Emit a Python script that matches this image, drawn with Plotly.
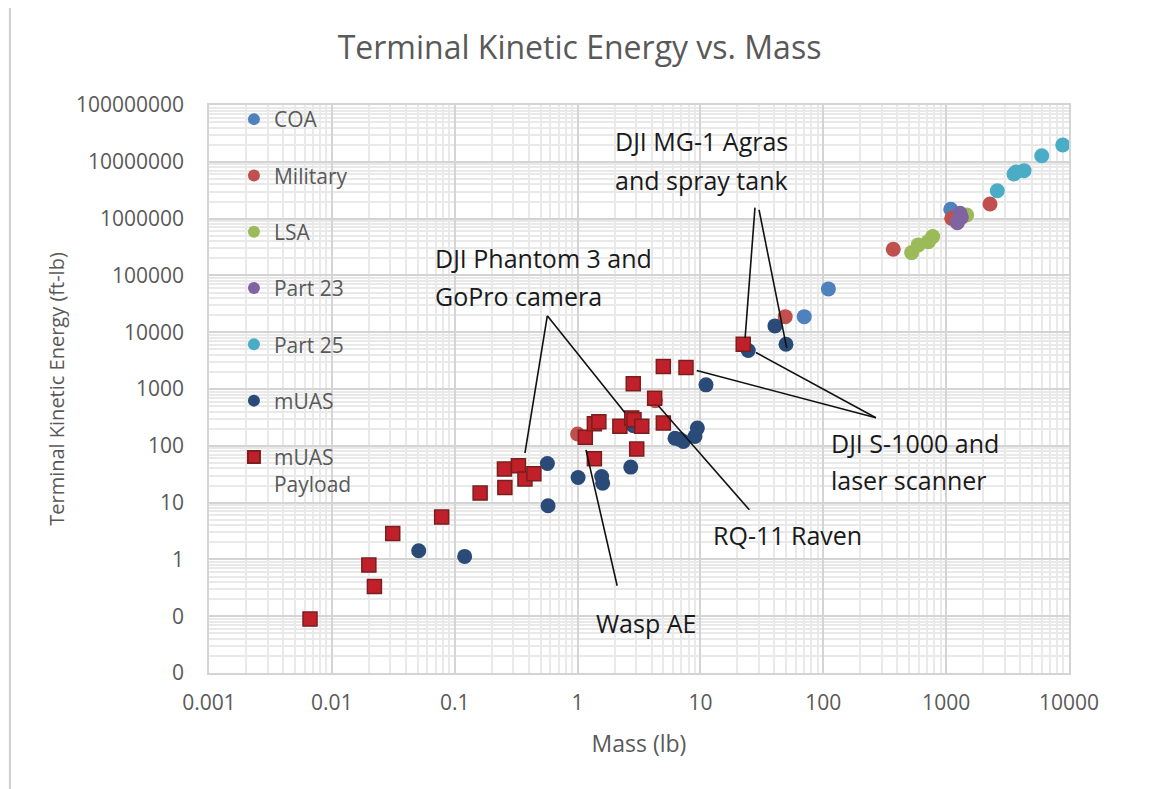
import plotly.graph_objects as go

# ---------------- data ----------------
coa_mass = [1090, 70, 110]
coa_ke = [1.46e6, 18800, 57800]

mil_mass = [1.0, 4.3, 49, 371, 1110, 2275]
mil_ke = [161, 620, 18800, 289000, 1.01e6, 1.81e6]

lsa_mass = [524, 593, 716, 777, 1469]
lsa_ke = [252000, 344000, 393000, 482000, 1.16e6]

p23_mass = [1330, 1297, 1233]
p23_ke = [1.05e6, 1.24e6, 849000]

p25_mass = [2608, 3565, 3700, 4303, 5997, 8890]
p25_ke = [3.10e6, 6.11e6, 6.6e6, 6.98e6, 1.28e7, 1.98e7]

muas_mass = [0.0509, 0.1205, 0.568, 0.575, 1.01, 1.57, 1.60, 2.71, 2.85,
             6.21, 6.8, 7.26, 9.03, 9.44, 11.1, 24.5, 40.4, 49.7]
muas_ke = [1.42, 1.13, 48.8, 8.79, 27.7, 28.8, 22.0, 42.2, 225,
           136, 130, 119, 146, 205, 1183, 4750, 12900, 6150]

pay_mass = [0.00664, 0.0200, 0.0222, 0.0313, 0.0783, 0.161, 0.256, 0.254, 0.330,
            0.373, 0.441, 1.156, 1.37, 1.49, 1.37, 2.21, 2.76, 2.88, 3.33, 3.03,
            2.84, 4.24, 4.99, 4.99, 7.63, 22.3]
pay_ke = [0.089, 0.794, 0.334, 2.86, 5.56, 14.7, 18.5, 38.9, 44.5,
          25.9, 32.1, 142, 244, 264, 59, 222, 310, 287, 222, 87.5,
          1233, 690, 251, 2483, 2386, 6150]

# callout leader lines: (mass, energy) endpoints
lead_phantom_a = ([0.567, 0.373], [19400, 74.3])
lead_phantom_b = ([0.567, 2.43], [19400, 380])
lead_wasp = ([1.17, 2.10], [85, 0.344])
lead_raven = ([4.54, 25.0], [506, 7.48])
lead_s1000_a = ([268, 9.33], [311, 2113])
lead_s1000_b = ([268, 28.3], [311, 4380])
lead_mg1_a = ([27.8, 23.1], [1.56e6, 7850])
lead_mg1_b = ([30.0, 50.4], [1.42e6, 5240])

# callout labels: text, log10(mass) of left edge, log10(energy) of line centre
label_text = ["DJI MG-1 Agras", "and spray tank",
              "DJI Phantom 3 and", "GoPro camera",
              "DJI S-1000 and", "laser scanner",
              "RQ-11 Raven", "Wasp AE"]
label_logx = [0.29, 0.29, -1.177, -1.177, 2.046, 2.046, 1.086, 0.134]
label_logy = [7.367, 6.683, 5.308, 4.639, 2.052, 1.401, 0.434, -1.115]

y_tickvals = [0.01, 0.1, 1, 10, 100, 1000, 10000, 100000, 1e6, 1e7, 1e8]
y_ticktext = ["0", "0", "1", "10", "100", "1000", "10000", "100000",
              "1000000", "10000000", "100000000"]
x_tickvals = [0.001, 0.01, 0.1, 1, 10, 100, 1000, 10000]
x_ticktext = ["0.001", "0.01", "0.1", "1", "10", "100", "1000", "10000"]

FONT = "Open Sans, Lato, sans-serif"
GREY = "#595959"

fig = go.Figure()

series = [
    ("COA", coa_mass, coa_ke, "#4F81BD"),
    ("Military", mil_mass, mil_ke, "#C0504D"),
    ("LSA", lsa_mass, lsa_ke, "#9BBB59"),
    ("Part 23", p23_mass, p23_ke, "#8064A2"),
    ("Part 25", p25_mass, p25_ke, "#4BACC6"),
    ("mUAS", muas_mass, muas_ke, "#2A4B78"),
]
for i, (name, xs, ys, col) in enumerate(series):
    fig.add_trace(go.Scatter(
        x=xs, y=ys, mode="markers", name=name, legendgroup=f"g{i}",
        marker=dict(color=col, size=15, symbol="circle", line=dict(width=0)),
    ))
fig.add_trace(go.Scatter(
    x=pay_mass, y=pay_ke, mode="markers", name="mUAS<br>Payload", legendgroup="g6",
    marker=dict(color="#C0202A", size=14, symbol="square",
                line=dict(color="#7A1E1E", width=1.5)),
))

for xs, ys in [lead_phantom_a, lead_phantom_b, lead_wasp, lead_raven,
               lead_s1000_a, lead_s1000_b, lead_mg1_a, lead_mg1_b]:
    fig.add_trace(go.Scatter(
        x=xs, y=ys, mode="lines", showlegend=False, hoverinfo="skip",
        line=dict(color="#111111", width=1.6),
    ))

for t, lx, ly in zip(label_text, label_logx, label_logy):
    fig.add_annotation(x=lx, y=ly, xref="x", yref="y", text=t, showarrow=False,
                       xanchor="left", yanchor="middle",
                       font=dict(family=FONT, size=25, color="#1A1A1A"))

x_minor = [m * 10 ** d for d in range(-3, 4) for m in range(2, 10)]
y_minor = [m * 10 ** d for d in range(-2, 8) for m in range(2, 10)]

# page body has an 8px margin, so the figure is sized to fit inside the window
fig.update_layout(
    width=1143, height=781,
    margin=dict(l=201, r=82, t=97, b=116, autoexpand=False),
    paper_bgcolor="white", plot_bgcolor="white",
    font=dict(family=FONT, color=GREY),
    title=dict(text="Terminal Kinetic Energy vs. Mass", x=0.5, xanchor="center",
               y=0.949, yanchor="middle",
               font=dict(family=FONT, size=32, color=GREY)),
    legend=dict(x=0.029, y=1.0106, xanchor="left", yanchor="top", valign="top",
                maxheight=700,
                bgcolor="rgba(0,0,0,0)", font=dict(family=FONT, size=21, color=GREY),
                tracegroupgap=26, itemsizing="constant"),
    showlegend=True,
)
fig.update_xaxes(
    type="log", range=[-3, 4], tickmode="array", tickvals=x_tickvals, ticktext=x_ticktext,
    showgrid=True, gridcolor="#D4D4D4", gridwidth=1.5,
    showline=True, linecolor="#D4D4D4", linewidth=1.5, mirror=True, zeroline=False,
    ticks="", ticklabelstandoff=10,
    tickfont=dict(family=FONT, size=21, color=GREY),
    title=dict(text="Mass (lb)", font=dict(family=FONT, size=23, color=GREY), standoff=21),
    minor=dict(tickmode="array", tickvals=x_minor, showgrid=True, gridcolor="#E9E9E9", ticks=""),
)
fig.update_yaxes(
    type="log", range=[-2, 8], tickmode="array", tickvals=y_tickvals, ticktext=y_ticktext,
    showgrid=True, gridcolor="#D4D4D4", gridwidth=1.5,
    showline=True, linecolor="#D4D4D4", linewidth=1.5, mirror=True, zeroline=False,
    ticks="", ticklabelstandoff=19,
    tickfont=dict(family=FONT, size=21, color=GREY),
    title=dict(text="Terminal Kinetic Energy (ft-lb)", font=dict(family=FONT, size=20, color=GREY), standoff=6),
    minor=dict(tickmode="array", tickvals=y_minor, showgrid=True, gridcolor="#E9E9E9", ticks=""),
)

# thin frame line at the left edge of the chart image
fig.add_shape(type="line", xref="paper", yref="paper",
              x0=-0.2315, x1=-0.2315, y0=-0.21, y1=1.19,
              line=dict(color="#D0D0D0", width=2))

fig.write_html("out.html")
